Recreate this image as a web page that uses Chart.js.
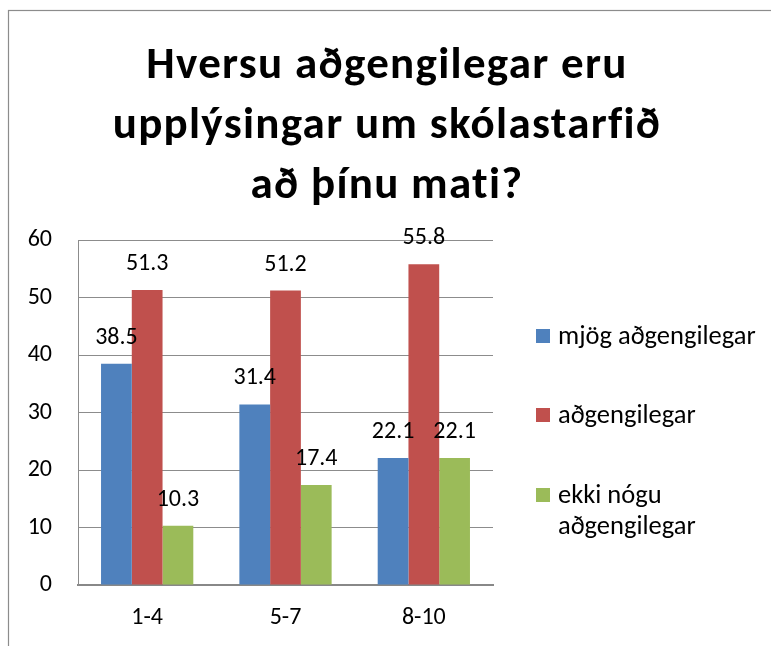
<!DOCTYPE html>
<html>
<head>
<meta charset="utf-8">
<script src="https://cdn.jsdelivr.net/npm/chart.js@4/dist/chart.umd.min.js"></script>
<style>
  html, body { margin: 0; padding: 0; background: #fff; }
  #wrap { position: relative; width: 771px; height: 646px; }
</style>
</head>
<body>
<div id="wrap"><canvas id="c" width="771" height="646"></canvas></div>
<script>
const titleLines = ["Hversu aðgengilegar eru", "upplýsingar um skólastarfið", "að þínu mati?"];
const categories = ["1-4", "5-7", "8-10"];
const seriesNames = ["mjög aðgengilegar", "aðgengilegar", "ekki nógu aðgengilegar"];
const seriesColors = ["#4F81BD", "#C0504D", "#9BBB59"];
const mjogAdgengilegar = [38.5, 31.4, 22.1];
const adgengilegar = [51.3, 51.2, 55.8];
const ekkiNoguAdgengilegar = [10.3, 17.4, 22.1];
const yTicks = [0, 10, 20, 30, 40, 50, 60];

const FONT = "Carlito, Calibri, Lato, sans-serif";

const framePlugin = {
  id: 'frame',
  beforeDraw(chart) {
    const ctx = chart.ctx;
    ctx.save();
    ctx.fillStyle = '#fff';
    ctx.fillRect(0, 0, chart.width, chart.height);
    ctx.strokeStyle = '#8c8c8c';
    ctx.lineWidth = 1.2;
    ctx.strokeRect(8.5, 10.5, 1000, 1000);
    ctx.restore();
  }
};

const titlePlugin = {
  id: 'customTitle',
  afterDraw(chart) {
    const ctx = chart.ctx;
    ctx.save();
    ctx.fillStyle = '#000';
    ctx.font = 'bold 45px ' + FONT;
    ctx.letterSpacing = '1.3px';
    ctx.textAlign = 'center';
    ctx.textBaseline = 'middle';
    titleLines.forEach((t, i) => ctx.fillText(t, 387, 67 + i * 60));
    ctx.restore();
  }
};

const dataLabelPlugin = {
  id: 'dataLabels',
  afterDatasetsDraw(chart) {
    const ctx = chart.ctx;
    ctx.save();
    ctx.fillStyle = '#000';
    ctx.font = '24px ' + FONT;
    ctx.textAlign = 'center';
    ctx.textBaseline = 'middle';
    chart.data.datasets.forEach((ds, di) => {
      const meta = chart.getDatasetMeta(di);
      meta.data.forEach((bar, i) => {
        ctx.fillText(ds.data[i].toFixed(1), bar.x, bar.y - 26);
      });
    });
    ctx.restore();
  }
};

const legendPlugin = {
  id: 'customLegend',
  afterDraw(chart) {
    const ctx = chart.ctx;
    ctx.save();
    ctx.font = '26.5px ' + FONT;
    ctx.textBaseline = 'middle';
    ctx.textAlign = 'left';
    const maxW = 210;
    const boxX = 536, textX = 558;
    const centers = [336, 415, 495];
    chart.data.datasets.forEach((ds, i) => {
      const words = ds.label.split(' ');
      const lines = [];
      let cur = '';
      words.forEach(w => {
        const test = cur ? cur + ' ' + w : w;
        if (ctx.measureText(test).width > maxW && cur) { lines.push(cur); cur = w; }
        else cur = test;
      });
      lines.push(cur);
      const cy = centers[i];
      ctx.fillStyle = ds.backgroundColor;
      ctx.fillRect(boxX, cy - 7, 14, 14);
      ctx.fillStyle = '#000';
      lines.forEach((l, j) => ctx.fillText(l, textX, cy + 1 + j * 31));
    });
    ctx.restore();
  }
};

new Chart(document.getElementById('c'), {
  type: 'bar',
  data: {
    labels: categories,
    datasets: [
      { label: seriesNames[0], data: mjogAdgengilegar, backgroundColor: seriesColors[0] },
      { label: seriesNames[1], data: adgengilegar, backgroundColor: seriesColors[1] },
      { label: seriesNames[2], data: ekkiNoguAdgengilegar, backgroundColor: seriesColors[2] }
    ]
  },
  options: {
    responsive: false,
    animation: false,
    devicePixelRatio: 1,
    layout: { padding: { top: 240, left: 0, right: 278, bottom: 0 } },
    datasets: { bar: { categoryPercentage: 0.667, barPercentage: 1.0 } },
    plugins: {
      legend: { display: false },
      title: { display: false },
      tooltip: { enabled: false }
    },
    scales: {
      x: {
        afterFit(scale) { scale.height = 61; },
        grid: { display: false, drawTicks: false },
        border: { display: true, color: '#888', width: 2 },
        ticks: { color: '#000', font: { family: FONT, size: 24 }, padding: 19 }
      },
      y: {
        min: 0, max: 60,
        afterFit(scale) { scale.width = 78; },
        afterBuildTicks(scale) { scale.ticks = yTicks.map(v => ({ value: v })); },
        grid: { color: '#8c8c8c', lineWidth: 1, drawTicks: false },
        border: { display: true, color: '#8c8c8c', width: 1 },
        ticks: { color: '#000', font: { family: FONT, size: 24 }, padding: 26 }
      }
    }
  },
  plugins: [framePlugin, titlePlugin, dataLabelPlugin, legendPlugin]
});
</script>
</body>
</html>
